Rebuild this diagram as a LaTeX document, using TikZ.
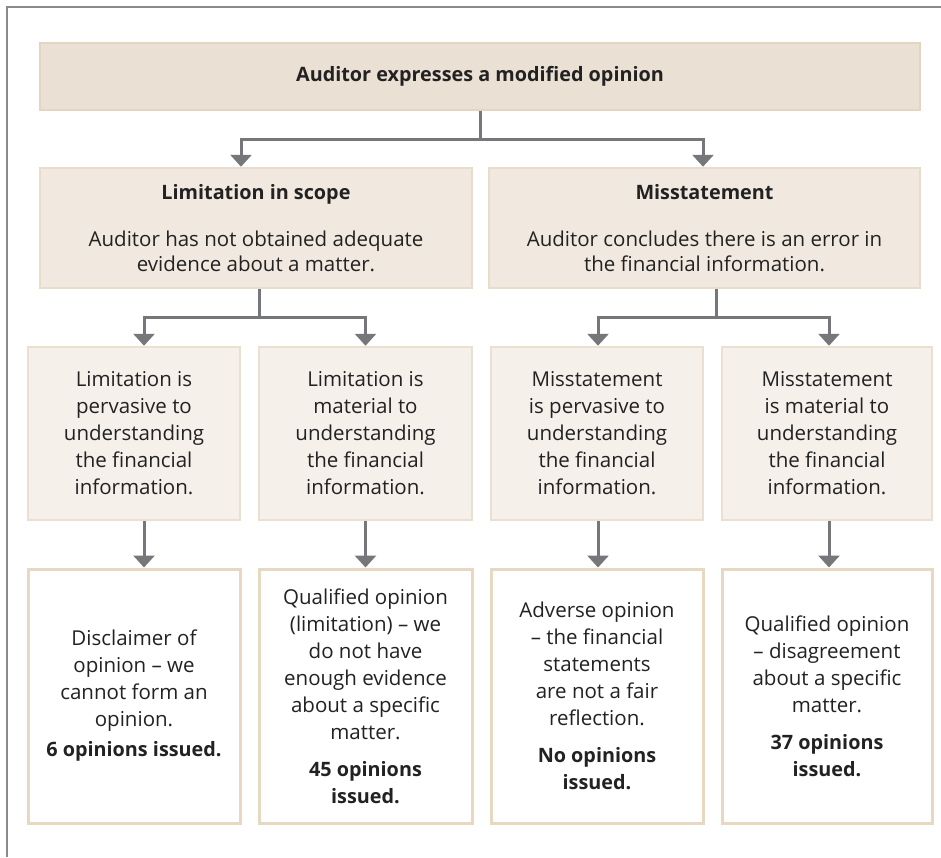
\documentclass[tikz,border=0pt]{standalone}
\usepackage{fontspec}
\setmainfont{Open Sans}
\usetikzlibrary{arrows.meta}
\definecolor{framegray}{HTML}{8A8A8A}
\definecolor{arrowgray}{HTML}{76777A}
\definecolor{topfill}{HTML}{EAE0D3}
\definecolor{topedge}{HTML}{E4D5C1}
\definecolor{midfill}{HTML}{F1E9DF}
\definecolor{midedge}{HTML}{E8DCCC}
\definecolor{lowfill}{HTML}{F5F0EA}
\definecolor{lowedge}{HTML}{EADFD0}
\definecolor{outedge}{HTML}{E7D8C2}
\definecolor{ink}{HTML}{222222}
\newcommand{\bodyfont}{\fontsize{20.5}{27}\selectfont}
\newcommand{\boldline}[1]{{\fontsize{19.8}{27}\selectfont\bfseries #1}}
\tikzset{
  box/.style={rectangle, inner sep=0pt, align=center, text=ink, line width=2.5pt},
  topbox/.style={box, fill=topfill, draw=topedge},
  midbox/.style={box, fill=midfill, draw=midedge, font=\fontsize{20.5}{25}\selectfont},
  lowbox/.style={box, fill=lowfill, draw=lowedge, font=\bodyfont},
  outbox/.style={box, fill=white, draw=outedge, line width=3pt, font=\bodyfont},
  link/.style={draw=arrowgray, line width=3pt},
  arrow/.style={link, -{Triangle[width=21pt,length=12pt]}},
}
\begin{document}
\begin{tikzpicture}[x=1pt, y=-1pt]
  \useasboundingbox (0,0) rectangle (941,857);
  % partial frame round the chart
  \draw[framegray, line width=1.2pt] (7,857) -- (7,7) -- (941,7);

  % top level
  \node[topbox, minimum width=880pt, minimum height=67pt, font=\fontsize{19.8}{25}\selectfont\bfseries]
    (top) at (480,76.5) {Auditor expresses a modified opinion};

  % two kinds of modification
  \node[midbox, minimum width=432pt, minimum height=120pt] (lim) at (256,228)
    {\boldline{Limitation in scope}\\[22pt]Auditor has not obtained adequate\\evidence about a matter.};
  \node[midbox, minimum width=431pt, minimum height=120pt] (mis) at (704.5,228)
    {\boldline{Misstatement}\\[22pt]Auditor concludes there is an error in\\the financial information.};

  % degree of each
  \node[lowbox, minimum width=212pt, minimum height=173pt] (l1) at (134,433.5)
    {Limitation is\\pervasive to\\understanding\\the financial\\information.};
  \node[lowbox, minimum width=213pt, minimum height=173pt] (l2) at (365.5,433.5)
    {Limitation is\\material to\\understanding\\the financial\\information.};
  \node[lowbox, minimum width=212pt, minimum height=173pt] (l3) at (597,433.5)
    {Misstatement\\is pervasive to\\understanding\\the financial\\information.};
  \node[lowbox, minimum width=210pt, minimum height=173pt] (l4) at (827,433.5)
    {Misstatement\\is material to\\understanding\\the financial\\information.};

  % resulting opinions
  \node[outbox, minimum width=212pt, minimum height=254pt] (o1) at (134,696)
    {Disclaimer of\\opinion -- we\\cannot form an\\opinion.\\[3pt]\boldline{6 opinions issued.}};
  \node[outbox, minimum width=213pt, minimum height=254pt] (o2) at (365.5,696)
    {Qualified opinion\\(limitation) -- we\\do not have\\enough evidence\\about a specific\\matter.\\[10pt]\boldline{45 opinions}\\\boldline{issued.}};
  \node[outbox, minimum width=212pt, minimum height=254pt] (o3) at (597,696)
    {Adverse opinion\\-- the financial\\statements\\are not a fair\\reflection.\\[10pt]\boldline{No opinions}\\\boldline{issued.}};
  \node[outbox, minimum width=210pt, minimum height=254pt] (o4) at (827,696)
    {Qualified opinion\\-- disagreement\\about a specific\\matter.\\[10pt]\boldline{37 opinions}\\\boldline{issued.}};

  % connectors
  \draw[link] (top.south) -- ++(0,28) coordinate (j0);
  \draw[arrow] (j0) -| ([xshift=-15pt]lim.north);
  \draw[arrow] (j0) -| ([xshift=-1.5pt]mis.north);

  \draw[link] ([xshift=3pt]lim.south) -- ++(0,28) coordinate (j1);
  \draw[arrow] (j1) -| ([xshift=10pt]l1.north);
  \draw[arrow] (j1) -| (l2.north);

  \draw[link] ([xshift=11.5pt]mis.south) -- ++(0,28) coordinate (j2);
  \draw[arrow] (j2) -| ([xshift=1pt]l3.north);
  \draw[arrow] (j2) -| ([xshift=2pt]l4.north);

  \draw[arrow] ([xshift=10pt]l1.south) -- ([xshift=10pt]o1.north);
  \draw[arrow] (l2.south) -- (o2.north);
  \draw[arrow] ([xshift=1pt]l3.south) -- ([xshift=1pt]o3.north);
  \draw[arrow] ([xshift=2pt]l4.south) -- ([xshift=2pt]o4.north);
\end{tikzpicture}
\end{document}
